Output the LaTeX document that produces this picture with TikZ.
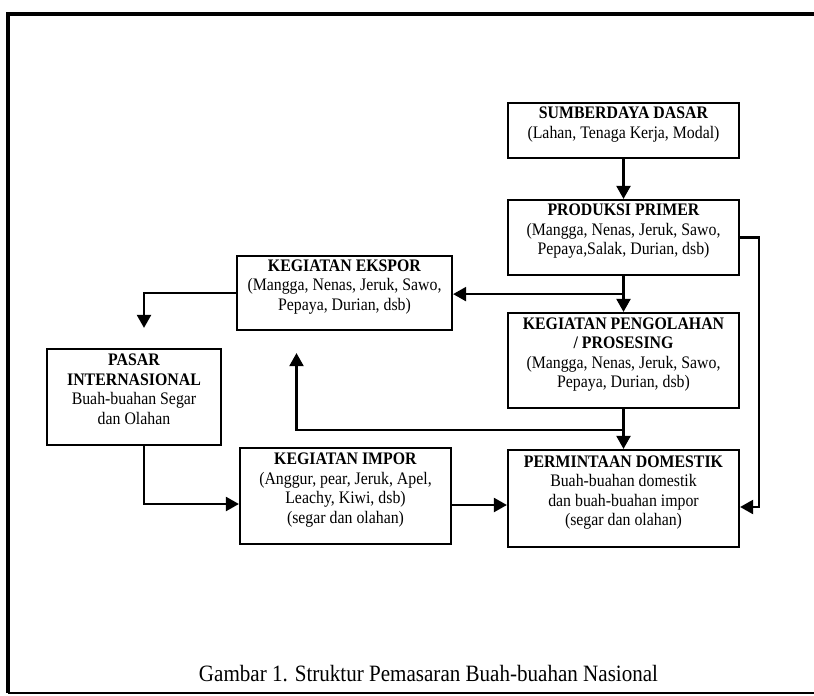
\documentclass[tikz,border=0pt]{standalone}
\usepackage{fontspec}
\setmainfont{Liberation Serif}[FakeStretch=0.9]
\usetikzlibrary{arrows.meta}

\begin{document}
\begin{tikzpicture}[x=1pt,y=-1pt,
  kotak/.style={draw,line width=2.2pt,align=center,inner sep=0pt,text depth=16pt,
    font=\fontsize{17.6}{19.5}\selectfont},
  panah/.style={line width=2.2pt,-{Triangle[length=13pt,width=14pt]}}]
\fill[white] (0,0) rectangle (814,696);
\clip (0,0) rectangle (814,696);
\useasboundingbox (0,0) rectangle (814,696);
\draw[line width=3.8pt] (830,14) -- (8,14) -- (8,693);
\draw[line width=2.4pt] (8,693) -- (830,693);
\node[kotak,minimum width=231pt,minimum height=55pt] (sumber) at (623.5,130.5)
  {\textbf{SUMBERDAYA DASAR}\\(Lahan, Tenaga Kerja, Modal)};
\node[kotak,minimum width=231pt,minimum height=75pt] (produksi) at (623.5,237.5)
  {\textbf{PRODUKSI PRIMER}\\(Mangga, Nenas, Jeruk, Sawo,\\Pepaya,Salak, Durian, dsb)};
\node[kotak,minimum width=215pt,minimum height=74pt] (ekspor) at (344.5,293)
  {\textbf{KEGIATAN EKSPOR}\\(Mangga, Nenas, Jeruk, Sawo,\\Pepaya, Durian, dsb)};
\node[kotak,minimum width=231pt,minimum height=95pt] (olah) at (623.5,360.5)
  {\textbf{KEGIATAN PENGOLAHAN}\\\textbf{/ PROSESING}\\(Mangga, Nenas, Jeruk, Sawo,\\Pepaya, Durian, dsb)};
\node[kotak,minimum width=174pt,minimum height=96pt] (pasar) at (134,397)
  {\textbf{PASAR}\\\textbf{INTERNASIONAL}\\Buah-buahan Segar\\dan Olahan};
\node[kotak,minimum width=211pt,minimum height=96pt] (impor) at (345.5,496)
  {\textbf{KEGIATAN IMPOR}\\(Anggur, pear, Jeruk, Apel,\\Leachy, Kiwi, dsb)\\(segar dan olahan)};
\node[kotak,minimum width=231pt,minimum height=97pt] (domestik) at (623.5,498.5)
  {\textbf{PERMINTAAN DOMESTIK}\\Buah-buahan domestik\\dan buah-buahan impor\\(segar dan olahan)};
\node[anchor=base,font=\fontsize{23.4}{27}\selectfont] (judul) at (428.5,681)
  {Gambar 1. Struktur Pemasaran Buah-buahan Nasional};
\path (produksi.south) ++(0,18) coordinate (cab1);
\path (olah.south) ++(0,21) coordinate (cab2);
\draw[panah] (sumber) -- (produksi);
\draw[panah] (produksi) -- (olah);
\draw[panah] (cab1) -- (cab1 -| ekspor.east);
\draw[panah,shorten >=20pt] (ekspor.west) -| ([xshift=10pt]pasar.north);
\draw[panah] (olah) -- (domestik);
\draw[panah,shorten >=22pt] (cab2) -| ([xshift=-48pt]ekspor.south);
\draw[panah] ([xshift=10pt]pasar.south) |- ([yshift=-8pt]impor.west);
\draw[panah] ([yshift=-9pt]impor.east) -- ([yshift=-9pt]impor.east -| domestik.west);
\draw[panah] (produksi.east) -- ++(19,0) |- ([yshift=-8.5pt]domestik.east);
\end{tikzpicture}
\end{document}
